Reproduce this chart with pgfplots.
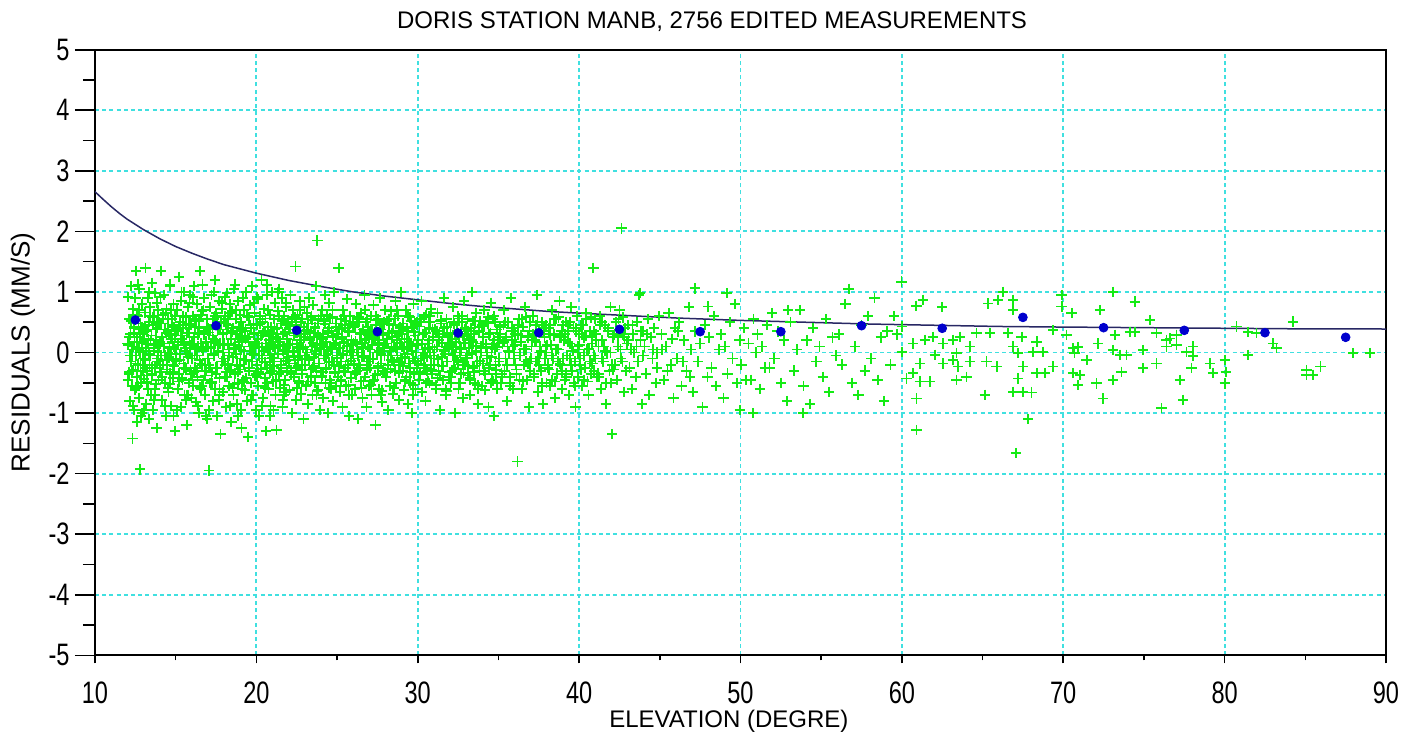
\documentclass[border=0pt]{standalone}
\usepackage{fontspec}
\setmainfont{Liberation Sans}
\newfontfamily\tickfont[FakeStretch=0.76]{Liberation Sans}
\usepackage{pgfplots}
\pgfplotsset{compat=1.18}

\definecolor{gridcyan}{RGB}{64,224,224}
\definecolor{ptgreen}{RGB}{20,235,20}
\definecolor{meanblue}{RGB}{0,0,205}
\definecolor{curvenavy}{RGB}{40,40,100}

\pgfplotsset{resid/.style={only marks, mark=+, mark size=2.6pt, color=ptgreen, mark options={line width=0.9pt}}}

\begin{document}
\begin{tikzpicture}
\useasboundingbox (-47.5pt,-39.35pt) rectangle (654.5pt,327.65pt);
\begin{axis}[
  at={(0pt,0pt)}, anchor=south west,
  scale only axis, width=645.5pt, height=302.8pt,
  xmin=10, xmax=90, ymin=-5, ymax=5,
  xtick={10,20,...,90}, ytick={-5,-4,...,5},
  xticklabels={10,20,30,40,50,60,70,80,90},
  yticklabels={-5,-4,-3,-2,-1,0,1,2,3,4,5},
  minor x tick num=1, minor y tick num=1,
  tick align=outside, xtick pos=left, ytick pos=left,
  major tick length=10pt, minor tick length=6pt,
  x tick style={/pgfplots/major tick length=4pt, /pgfplots/minor tick length=2.5pt},
  tick style={black, line width=0.8pt},
  axis line style={black, line width=1pt},
  grid=major,
  major grid style={gridcyan, line width=0.9pt, dash pattern=on 2pt off 1.6pt},
  ticklabel style={font=\tickfont\fontsize{15.5}{18}\selectfont, inner sep=0pt},
  xticklabel style={anchor=base, yshift=-13.85pt},
  yticklabel style={anchor=east, xshift=-2.5pt},
  every axis title shift=0pt,
  title={DORIS STATION MANB, 2756 EDITED MEASUREMENTS},
  title style={at={(axis description cs:0.478,1.0358)}, anchor=base, yshift=0pt, inner sep=0pt, font=\fontsize{12}{14}\selectfont},
  xlabel={ELEVATION (DEGRE)},
  xlabel style={at={(axis description cs:0.491,-0.12)}, anchor=base, inner sep=0pt, font=\fontsize{12}{14}\selectfont},
  ylabel={RESIDUALS (MM/S)},
  ylabel style={at={(axis description cs:-0.0558,0.5)}, anchor=center, inner sep=0pt, font=\fontsize{13}{15}\selectfont},
]
% individual residuals
\addplot[resid] coordinates {
(12.05,0.12)(12.1,-0.35)(12.12,0.55)(12.15,-0.8)(12.2,0.3)(12.22,-0.15)(12.25,1.1)(12.28,-0.55)(12.3,0.05)(12.33,-1.42)(12.35,0.72)(12.38,-0.28)(12.4,0.42)(12.42,-0.95)(12.45,0.18)(12.48,-0.62)(12.5,0.9)(12.52,-0.05)(12.55,1.35)(12.58,-0.4)(12.6,0.25)(12.62,-1.15)(12.65,0.6)(12.68,-0.2)(12.7,0.38)(12.72,-0.75)(12.75,1.05)(12.78,0.0)(12.8,-1.93)(12.82,0.48)(12.85,-0.5)(12.88,0.15)(12.9,-1.0)(12.92,0.8)(12.95,-0.3)(12.98,0.35)
(13.02,0.21)(13.05,-0.44)(13.08,0.66)(13.1,-0.12)(13.13,1.4)(13.15,0.02)(13.18,-0.85)(13.2,0.35)(13.23,-0.3)(13.26,0.9)(13.28,-0.6)(13.3,0.14)(13.33,-1.1)(13.36,0.5)(13.38,-0.2)(13.41,0.75)(13.44,-0.05)(13.47,-0.7)(13.5,0.28)(13.52,1.15)(13.55,-0.38)(13.58,0.45)(13.61,-0.95)(13.64,0.08)(13.67,0.6)(13.7,-0.25)(13.73,0.98)(13.76,-0.52)(13.79,0.2)(13.82,-1.25)(13.85,0.4)(13.88,-0.1)(13.91,0.7)(13.94,-0.45)(13.97,0.1)
(14.02,-0.32)(14.05,0.48)(14.08,1.35)(14.1,-0.05)(14.14,0.25)(14.17,-0.78)(14.2,0.62)(14.23,-0.2)(14.26,0.95)(14.3,0.1)(14.33,-0.5)(14.36,0.38)(14.4,-1.05)(14.43,0.72)(14.46,-0.12)(14.5,0.0)(14.53,0.55)(14.56,-0.65)(14.6,0.3)(14.63,-0.35)(14.66,1.1)(14.7,-0.02)(14.73,-0.88)(14.76,0.45)(14.8,0.18)(14.83,-0.42)(14.86,0.8)(14.9,-0.22)(14.93,0.05)(14.96,-1.3)(14.98,0.6)
(15.02,0.35)(15.05,-0.15)(15.09,0.7)(15.12,-0.6)(15.15,0.12)(15.19,1.25)(15.22,-0.35)(15.25,0.5)(15.28,-0.02)(15.32,-0.9)(15.35,0.85)(15.38,0.22)(15.42,-0.45)(15.45,0.4)(15.48,-0.18)(15.52,1.0)(15.55,-0.7)(15.58,0.08)(15.62,0.58)(15.65,-0.28)(15.68,-1.2)(15.72,0.32)(15.75,-0.08)(15.78,0.75)(15.82,-0.5)(15.85,0.15)(15.88,0.95)(15.92,-0.3)(15.95,0.45)(15.98,-0.75)
(16.02,-0.1)(16.05,0.6)(16.08,-0.55)(16.12,0.25)(16.15,1.1)(16.18,-0.25)(16.22,0.42)(16.25,-0.82)(16.28,0.05)(16.32,0.8)(16.35,-0.4)(16.38,0.3)(16.42,-1.0)(16.45,0.52)(16.48,-0.12)(16.52,1.35)(16.55,0.15)(16.58,-0.6)(16.62,0.68)(16.65,-0.2)(16.68,0.02)(16.72,-0.45)(16.75,0.9)(16.78,0.35)(16.82,-0.7)(16.85,0.18)(16.88,-0.3)(16.92,0.55)(16.95,-1.1)(16.98,0.1)
(17.02,0.4)(17.05,-1.95)(17.08,-0.2)(17.12,0.75)(17.15,-0.5)(17.18,0.1)(17.22,0.95)(17.25,-0.32)(17.28,0.28)(17.32,-0.8)(17.35,0.55)(17.38,-0.05)(17.42,1.2)(17.45,-0.6)(17.48,0.2)(17.52,0.65)(17.55,-0.25)(17.58,-1.05)(17.62,0.38)(17.65,0.0)(17.68,0.85)(17.72,-0.42)(17.75,0.15)(17.78,-1.35)(17.82,0.5)(17.85,-0.15)(17.88,0.72)(17.92,-0.65)(17.95,0.3)(17.98,-0.1)
(18.02,0.15)(18.05,-0.4)(18.08,0.6)(18.12,-0.9)(18.15,0.32)(18.18,0.98)(18.22,-0.18)(18.25,0.45)(18.28,-0.55)(18.32,0.05)(18.35,0.8)(18.38,-0.3)(18.42,0.22)(18.45,-1.15)(18.48,0.68)(18.52,-0.08)(18.55,0.4)(18.58,-0.7)(18.62,1.05)(18.65,0.12)(18.68,-0.35)(18.72,0.55)(18.75,-0.02)(18.78,-0.85)(18.82,0.3)(18.85,0.85)(18.88,-0.5)(18.92,0.18)(18.95,-0.22)(18.98,0.62)
(19.02,-0.28)(19.05,0.5)(19.08,-1.25)(19.12,0.2)(19.15,0.9)(19.18,-0.45)(19.22,0.02)(19.25,0.7)(19.28,-0.62)(19.32,0.35)(19.35,-0.12)(19.38,1.0)(19.42,-0.8)(19.45,0.25)(19.48,-1.4)(19.52,0.58)(19.55,-0.3)(19.58,0.1)(19.62,0.78)(19.65,-0.5)(19.68,0.4)(19.72,-0.15)(19.75,1.1)(19.78,-0.7)(19.82,0.3)(19.85,-0.02)(19.88,0.65)(19.92,-0.38)(19.95,0.15)(19.98,-0.95)
(20.02,0.45)(20.05,-0.2)(20.08,0.88)(20.12,-0.55)(20.15,0.1)(20.18,-1.05)(20.22,0.6)(20.25,-0.35)(20.28,0.28)(20.32,1.2)(20.35,-0.1)(20.38,0.5)(20.42,-0.75)(20.45,0.02)(20.48,0.72)(20.52,-0.42)(20.55,0.35)(20.58,-1.3)(20.62,0.15)(20.65,0.95)(20.68,-0.25)(20.72,0.42)(20.75,-0.6)(20.78,0.2)(20.82,-0.05)(20.85,0.62)(20.88,-0.88)(20.92,0.3)(20.95,1.0)(20.98,-0.3)
(21.02,0.1)(21.05,-0.48)(21.08,0.55)(21.12,-0.15)(21.15,0.82)(21.18,-0.7)(21.22,0.25)(21.25,-1.28)(21.28,0.4)(21.32,-0.02)(21.35,0.68)(21.38,-0.35)(21.42,1.05)(21.45,0.12)(21.48,-0.58)(21.52,0.48)(21.55,-0.2)(21.58,0.9)(21.62,-0.9)(21.65,0.3)(21.68,-0.1)(21.72,0.6)(21.75,-0.45)(21.78,0.05)(21.82,0.75)(21.85,-0.65)(21.88,0.22)(21.92,-0.3)(21.95,0.5)(21.98,-0.08)
(22.02,0.38)(22.05,-0.62)(22.08,0.15)(22.12,0.95)(22.15,-0.3)(22.18,0.5)(22.22,-1.0)(22.25,0.02)(22.28,0.7)(22.32,-0.4)(22.35,0.28)(22.38,-0.12)(22.42,1.42)(22.45,0.45)(22.48,-0.78)(22.52,0.1)(22.55,0.62)(22.58,-0.22)(22.62,0.35)(22.65,-0.5)(22.68,0.85)(22.72,-0.05)(22.75,0.2)(22.78,-0.68)(22.82,0.55)(22.85,-0.35)(22.88,0.08)(22.92,-1.1)(22.95,0.42)(22.98,0.75)
(23.02,-0.2)(23.05,0.3)(23.08,-0.55)(23.12,0.65)(23.15,0.0)(23.18,-0.85)(23.22,0.48)(23.25,-0.12)(23.28,0.9)(23.32,0.2)(23.35,-0.4)(23.38,0.58)(23.42,-0.28)(23.45,0.1)(23.48,-0.7)(23.52,0.78)(23.55,0.32)(23.58,-0.08)(23.62,-0.5)(23.65,0.42)(23.68,1.1)(23.72,-0.3)(23.75,0.15)(23.78,1.85)(23.82,-0.62)(23.85,0.55)(23.88,-0.18)(23.92,0.25)(23.95,-0.95)(23.98,0.6)
(24.02,0.05)(24.05,0.7)(24.08,-0.38)(24.12,0.3)(24.15,-0.75)(24.18,0.52)(24.22,-0.1)(24.25,0.95)(24.28,-0.5)(24.32,0.18)(24.35,-0.25)(24.38,0.62)(24.42,-0.02)(24.45,-1.0)(24.48,0.4)(24.52,0.82)(24.55,-0.45)(24.58,0.1)(24.62,-0.6)(24.65,0.35)(24.68,-0.15)(24.72,0.58)(24.75,-0.8)(24.78,0.25)(24.82,1.0)(24.85,-0.32)(24.88,0.12)(24.92,-0.55)(24.95,0.48)(24.98,-0.05)
(25.02,0.3)(25.06,-0.4)(25.1,1.4)(25.14,0.08)(25.18,-0.65)(25.22,0.55)(25.26,-0.15)(25.3,0.25)(25.34,-0.9)(25.38,0.7)(25.42,-0.3)(25.46,0.15)(25.5,0.45)(25.54,-0.55)(25.58,-0.05)(25.62,0.88)(25.66,-0.2)(25.7,0.35)(25.74,-1.05)(25.78,0.6)(25.82,0.02)(25.86,-0.42)(25.9,0.2)(25.94,-0.7)(25.97,0.5)
(26.02,-0.1)(26.06,0.42)(26.1,-0.6)(26.14,0.18)(26.18,0.8)(26.22,-0.3)(26.26,0.05)(26.3,-1.1)(26.34,0.5)(26.38,-0.2)(26.42,0.3)(26.46,-0.48)(26.5,0.65)(26.54,0.1)(26.58,-0.75)(26.62,0.38)(26.66,-0.05)(26.7,0.95)(26.74,-0.4)(26.78,0.22)(26.82,-0.9)(26.86,0.55)(26.9,-0.15)(26.94,0.28)(26.97,-0.55)
(27.02,0.35)(27.06,-0.25)(27.1,0.6)(27.14,-0.7)(27.18,0.12)(27.22,-0.1)(27.26,0.78)(27.3,-0.45)(27.34,0.25)(27.38,-1.2)(27.42,0.45)(27.46,0.0)(27.5,-0.35)(27.54,0.55)(27.58,-0.6)(27.62,0.2)(27.66,0.9)(27.7,-0.18)(27.74,0.38)(27.78,-0.82)(27.82,0.08)(27.86,-0.3)(27.9,0.5)(27.94,-0.05)(27.97,0.7)
(28.02,-0.4)(28.06,0.15)(28.1,0.52)(28.14,-0.2)(28.18,-0.95)(28.22,0.32)(28.26,0.02)(28.3,-0.55)(28.34,0.68)(28.38,-0.12)(28.42,0.25)(28.46,-0.68)(28.5,0.45)(28.54,0.1)(28.58,-0.3)(28.62,0.85)(28.66,-0.5)(28.7,0.2)(28.74,-0.05)(28.78,0.6)(28.82,-0.78)(28.86,0.3)(28.9,-0.2)(28.94,0.4)(28.97,1.0)
(29.02,0.1)(29.06,-0.3)(29.1,0.48)(29.14,-0.62)(29.18,0.22)(29.22,-0.08)(29.26,0.7)(29.3,-0.4)(29.34,0.05)(29.38,-0.85)(29.42,0.35)(29.46,-0.18)(29.5,0.58)(29.54,-0.5)(29.58,0.15)(29.62,-1.0)(29.66,0.42)(29.7,-0.1)(29.74,0.8)(29.78,-0.35)(29.82,0.28)(29.86,-0.6)(29.9,0.0)(29.94,0.5)(29.97,-0.25)
(30.03,0.2)(30.08,-0.45)(30.13,0.55)(30.18,-0.1)(30.23,0.85)(30.28,-0.65)(30.33,0.3)(30.38,-0.2)(30.43,0.05)(30.48,-0.8)(30.53,0.62)(30.58,-0.3)(30.63,0.15)(30.68,0.4)(30.73,-0.5)(30.78,0.0)(30.83,0.72)(30.88,-0.35)(30.93,0.25)(30.97,-0.05)
(31.03,-0.2)(31.08,0.38)(31.13,-0.6)(31.18,0.1)(31.23,0.65)(31.28,-0.3)(31.33,0.2)(31.38,-0.95)(31.43,0.48)(31.48,-0.08)(31.53,0.3)(31.58,-0.45)(31.63,0.9)(31.68,0.05)(31.73,-0.7)(31.78,0.55)(31.83,-0.15)(31.88,0.25)(31.93,-0.4)(31.97,0.12)
(32.03,0.32)(32.08,-0.5)(32.13,0.05)(32.18,0.75)(32.23,-0.25)(32.28,0.45)(32.33,-1.0)(32.38,0.18)(32.43,-0.12)(32.48,0.6)(32.53,-0.6)(32.58,0.25)(32.63,0.0)(32.68,-0.35)(32.73,0.5)(32.78,-0.75)(32.83,0.15)(32.88,0.85)(32.93,-0.2)(32.97,0.4)
(33.03,-0.05)(33.08,0.55)(33.13,-0.38)(33.18,0.2)(33.23,-0.7)(33.28,0.4)(33.33,0.0)(33.38,1.0)(33.43,-0.25)(33.48,0.3)(33.53,-0.5)(33.58,0.1)(33.63,0.65)(33.68,-0.15)(33.73,-0.85)(33.78,0.35)(33.83,-0.3)(33.88,0.52)(33.93,0.08)(33.97,-0.55)
(34.03,0.25)(34.08,-0.3)(34.13,0.7)(34.18,-0.62)(34.23,0.1)(34.28,-0.1)(34.33,0.48)(34.38,-0.9)(34.43,0.3)(34.48,-0.2)(34.53,0.82)(34.58,-0.45)(34.63,0.15)(34.68,0.55)(34.73,-1.05)(34.78,0.05)(34.83,-0.35)(34.88,0.38)(34.93,-0.6)(34.97,0.2)
(35.05,-0.15)(35.12,0.42)(35.18,-0.5)(35.25,0.15)(35.32,0.7)(35.38,-0.3)(35.45,0.25)(35.52,-0.8)(35.58,0.5)(35.65,0.0)(35.72,-0.4)(35.78,0.9)(35.85,0.2)(35.9,-0.6)(35.95,0.35)(35.98,-0.1)
(36.05,0.3)(36.12,-0.35)(36.18,-1.8)(36.25,0.55)(36.32,-0.05)(36.38,0.18)(36.45,-0.6)(36.52,0.42)(36.58,-0.2)(36.65,0.75)(36.72,0.05)(36.78,-0.45)(36.85,0.28)(36.9,-0.9)(36.95,0.5)(36.98,-0.15)
(37.05,0.1)(37.12,0.6)(37.18,-0.4)(37.25,0.2)(37.32,-0.15)(37.38,0.95)(37.45,-0.65)(37.52,0.35)(37.58,0.0)(37.65,-0.3)(37.72,0.5)(37.78,-0.85)(37.85,0.25)(37.9,-0.1)(37.95,0.45)(37.98,-0.5)
(38.05,-0.25)(38.12,0.4)(38.18,-0.55)(38.25,0.12)(38.32,0.7)(38.38,-0.1)(38.45,0.3)(38.52,-0.75)(38.58,0.55)(38.65,-0.35)(38.72,0.05)(38.78,0.85)(38.85,-0.2)(38.9,0.25)(38.95,-0.6)(38.98,0.45)
(39.05,0.2)(39.12,-0.45)(39.18,0.5)(39.25,-0.05)(39.32,0.35)(39.38,-0.7)(39.45,0.15)(39.52,0.75)(39.58,-0.3)(39.65,0.4)(39.72,-0.15)(39.78,-0.9)(39.85,0.6)(39.9,0.05)(39.95,-0.4)(39.98,0.3)
(40.05,-0.1)(40.12,0.45)(40.2,-0.55)(40.28,0.25)(40.35,-0.25)(40.42,0.65)(40.5,0.05)(40.58,-0.7)(40.65,0.35)(40.72,-0.35)(40.8,0.15)(40.88,1.4)(40.94,-0.05)(40.98,0.55)
(41.05,0.3)(41.12,-0.4)(41.2,0.1)(41.28,0.6)(41.35,-0.6)(41.42,0.2)(41.5,-0.15)(41.58,0.45)(41.65,-0.85)(41.72,0.0)(41.8,0.35)(41.88,-0.3)(41.94,0.75)(41.98,-0.5)
(42.05,-1.35)(42.12,0.25)(42.2,-0.2)(42.28,0.5)(42.35,-0.45)(42.42,0.1)(42.5,0.7)(42.58,-0.1)(42.62,2.05)(42.7,0.3)(42.78,-0.65)(42.85,0.4)(42.92,-0.3)(42.98,0.15)
(43.05,0.45)(43.12,-0.25)(43.2,0.05)(43.28,-0.6)(43.35,0.3)(43.42,0.0)(43.5,-0.4)(43.58,0.5)(43.65,-0.15)(43.72,0.95)(43.77,0.98)(43.8,0.2)(43.88,-0.85)(43.94,0.35)(43.98,-0.05)
(44.05,0.1)(44.15,-0.35)(44.25,0.55)(44.35,-0.7)(44.45,0.25)(44.55,-0.1)(44.65,0.4)(44.75,-0.5)(44.85,0.0)(44.95,0.6)
(45.1,0.3)(45.25,-0.45)(45.4,0.1)(45.55,0.65)(45.7,-0.2)(45.85,-0.75)(45.95,0.4)
(46.05,-0.1)(46.2,0.5)(46.35,-0.55)(46.5,0.2)(46.65,-0.3)(46.8,0.75)(46.95,0.05)
(47.05,-0.65)(47.17,1.06)(47.2,0.35)(47.35,-0.15)(47.5,0.15)(47.65,-0.9)(47.8,0.45)(47.95,-0.4)
(48.0,0.76)(48.05,0.25)(48.2,-0.25)(48.35,0.6)(48.5,-0.55)(48.65,0.05)(48.8,0.3)(48.95,-0.75)
(49.05,0.1)(49.14,0.98)(49.2,-0.35)(49.35,0.5)(49.5,-0.1)(49.65,0.8)(49.8,-0.5)(49.96,-0.95)(49.95,0.2)
(50.05,-0.2)(50.2,0.4)(50.35,-0.45)(50.5,0.15)(50.65,-0.45)(50.79,-1.0)(50.8,0.55)(50.95,0.0)
(51.05,0.3)(51.2,-0.6)(51.35,0.1)(51.5,-0.25)(51.65,0.45)(51.8,-0.25)(51.95,0.65)
(52.1,-0.1)(52.3,0.35)(52.5,-0.5)(52.7,0.2)(52.9,-0.8)(52.96,0.7)
(53.1,0.5)(53.3,-0.3)(53.5,0.05)(53.7,0.7)(53.88,-1.0)(53.9,-0.55)
(54.1,0.2)(54.3,-0.85)(54.5,0.4)(54.7,-0.15)(54.9,0.1)
(55.1,-0.4)(55.3,0.55)(55.5,-0.65)(55.7,0.25)(55.9,-0.05)
(56.1,0.3)(56.3,-0.2)(56.5,0.8)(56.7,1.05)(56.9,-0.5)
(57.1,0.1)(57.3,-0.7)(57.5,0.45)(57.7,-0.3)(57.9,0.6)
(58.1,-0.1)(58.3,0.9)(58.5,-0.45)(58.7,0.25)(58.9,-0.8)
(59.1,0.35)(59.3,-0.2)(59.5,0.6)(59.7,0.3)(59.98,1.17)
(60.0,0.43)(60.0,0.01)(60.29,-0.43)(60.7,0.15)(60.7,-0.34)(60.9,0.77)(60.91,-0.76)(60.91,-1.28)(61.11,-0.18)(61.11,-0.48)(61.3,0.87)(61.42,0.21)(61.73,-0.48)(61.94,0.26)(62.04,-0.04)(62.5,0.75)(62.56,0.15)(62.56,-0.18)(63.18,0.21)(63.18,-0.12)(63.39,-0.01)(63.39,-0.45)(63.49,-0.23)(63.59,0.26)(64.0,-0.40)(64.21,0.10)(64.21,-0.15)(64.63,0.32)
(65.14,-0.70)(65.25,-0.15)(65.35,0.81)(65.45,0.32)(65.87,-0.23)(65.97,0.87)(66.28,1.0)(66.59,0.32)(66.9,0.87)(66.9,0.70)(66.9,0.10)(66.9,-0.65)(67.07,-1.66)(67.21,-0.01)(67.21,-0.43)(67.42,0.26)(67.52,-0.23)(67.52,-0.65)(67.83,-1.10)(68.03,-0.66)(68.14,0.01)(68.35,0.18)(68.35,-0.34)(68.76,0.01)(68.86,-0.34)(69.38,-0.23)(69.38,0.37)(69.9,0.95)(69.9,0.76)
(70.2,0.29)(70.52,0.65)(70.61,0.07)(70.61,-0.34)(70.7,-0.01)(70.9,0.09)(70.93,-0.54)(71.03,-0.37)(71.45,-0.12)(72.06,-0.51)(72.16,0.15)(72.27,0.70)(72.47,-0.76)(73.09,1.0)(73.09,0.04)(73.09,-0.45)(73.2,0.29)(73.51,-0.04)(73.61,-0.32)(73.92,-0.04)(74.13,0.34)(74.44,0.84)(74.44,0.34)(74.95,0.04)(74.95,-0.26)
(75.36,0.54)(75.78,0.32)(75.78,-0.18)(76.09,-0.92)(76.4,0.10)(76.4,0.21)(76.6,0.23)(77.02,0.29)(77.02,0.12)(77.23,-0.45)(77.43,-0.78)(77.64,0.01)(77.95,-0.26)(78.05,0.10)(78.05,-0.06)(79.08,-0.18)(79.29,-0.34)
(80.01,-0.12)(80.07,-0.32)(80.01,-0.51)(80.74,0.43)(81.46,0.34)(81.46,-0.04)(81.98,0.32)(83.0,0.15)(83.21,0.07)(84.24,0.51)(85.07,-0.29)(85.07,-0.37)(85.48,-0.37)(85.94,-0.23)(87.97,-0.01)(89.0,-0.01)
};
% residuals in the dense core of the low-elevation passes
\addplot[resid] coordinates {
(12.04,-0.45)(12.11,0.25)(12.17,-0.05)(12.24,0.52)(12.31,-0.3)(12.37,0.1)(12.44,0.4)(12.51,-0.18)(12.57,0.62)(12.64,-0.55)(12.71,0.05)(12.77,0.3)(12.84,-0.38)(12.91,0.18)(12.97,-0.1)
(13.04,0.33)(13.11,-0.25)(13.17,0.08)(13.24,-0.5)(13.31,0.45)(13.37,-0.02)(13.44,0.2)(13.51,-0.35)(13.57,0.58)(13.64,0.12)(13.71,-0.6)(13.77,0.38)(13.84,-0.15)(13.91,0.0)(13.97,0.5)
(14.04,-0.2)(14.11,0.48)(14.17,-0.4)(14.24,0.15)(14.31,0.0)(14.37,0.65)(14.44,-0.28)(14.51,0.35)(14.57,-0.08)(14.64,-0.52)(14.71,0.22)(14.77,0.55)(14.84,-0.32)(14.91,0.1)(14.97,0.28)
(15.04,0.05)(15.11,-0.6)(15.17,0.4)(15.24,-0.12)(15.31,0.28)(15.37,-0.42)(15.44,0.6)(15.51,0.18)(15.57,-0.25)(15.64,0.45)(15.71,-0.02)(15.77,-0.7)(15.84,0.32)(15.91,0.08)(15.97,-0.35)
(16.04,-0.45)(16.11,0.25)(16.17,-0.05)(16.24,0.52)(16.31,-0.3)(16.37,0.1)(16.44,0.4)(16.51,-0.18)(16.57,0.62)(16.64,-0.55)(16.71,0.05)(16.77,0.3)(16.84,-0.38)(16.91,0.18)(16.97,-0.1)
(17.04,0.33)(17.11,-0.25)(17.17,0.08)(17.24,-0.5)(17.31,0.45)(17.37,-0.02)(17.44,0.2)(17.51,-0.35)(17.57,0.58)(17.64,0.12)(17.71,-0.6)(17.77,0.38)(17.84,-0.15)(17.91,0.0)(17.97,0.5)
(18.04,-0.2)(18.11,0.48)(18.17,-0.4)(18.24,0.15)(18.31,0.0)(18.37,0.65)(18.44,-0.28)(18.51,0.35)(18.57,-0.08)(18.64,-0.52)(18.71,0.22)(18.77,0.55)(18.84,-0.32)(18.91,0.1)(18.97,0.28)
(19.04,0.05)(19.11,-0.6)(19.17,0.4)(19.24,-0.12)(19.31,0.28)(19.37,-0.42)(19.44,0.6)(19.51,0.18)(19.57,-0.25)(19.64,0.45)(19.71,-0.02)(19.77,-0.7)(19.84,0.32)(19.91,0.08)(19.97,-0.35)
(20.04,-0.4)(20.11,0.22)(20.17,-0.05)(20.24,0.47)(20.31,-0.27)(20.37,0.09)(20.44,0.36)(20.51,-0.16)(20.57,0.56)(20.64,-0.5)(20.71,0.05)(20.77,0.27)(20.84,-0.34)(20.91,0.16)(20.97,-0.09)
(21.04,0.3)(21.11,-0.22)(21.17,0.07)(21.24,-0.45)(21.31,0.4)(21.37,-0.02)(21.44,0.18)(21.51,-0.32)(21.57,0.52)(21.64,0.11)(21.71,-0.54)(21.77,0.34)(21.84,-0.14)(21.91,0.0)(21.97,0.45)
(22.04,-0.18)(22.11,0.43)(22.17,-0.36)(22.24,0.14)(22.31,0.0)(22.37,0.58)(22.44,-0.25)(22.51,0.32)(22.57,-0.07)(22.64,-0.47)(22.71,0.2)(22.77,0.5)(22.84,-0.29)(22.91,0.09)(22.97,0.25)
(23.04,0.05)(23.11,-0.54)(23.17,0.36)(23.24,-0.11)(23.31,0.25)(23.37,-0.38)(23.44,0.54)(23.51,0.16)(23.57,-0.22)(23.64,0.4)(23.71,-0.02)(23.77,-0.63)(23.84,0.29)(23.91,0.07)(23.97,-0.32)
(24.04,-0.4)(24.11,0.22)(24.17,-0.05)(24.24,0.47)(24.31,-0.27)(24.37,0.09)(24.44,0.36)(24.51,-0.16)(24.57,0.56)(24.64,-0.5)(24.71,0.05)(24.77,0.27)(24.84,-0.34)(24.91,0.16)(24.97,-0.09)
(25.04,0.3)(25.11,-0.22)(25.17,0.07)(25.24,-0.45)(25.31,0.4)(25.37,-0.02)(25.44,0.18)(25.51,-0.32)(25.57,0.52)(25.64,0.11)(25.71,-0.54)(25.77,0.34)(25.84,-0.14)(25.91,0.0)(25.97,0.45)
(26.04,-0.18)(26.11,0.43)(26.17,-0.36)(26.24,0.14)(26.31,0.0)(26.37,0.58)(26.44,-0.25)(26.51,0.32)(26.57,-0.07)(26.64,-0.47)(26.71,0.2)(26.77,0.5)(26.84,-0.29)(26.91,0.09)(26.97,0.25)
(27.04,0.05)(27.11,-0.54)(27.17,0.36)(27.24,-0.11)(27.31,0.25)(27.37,-0.38)(27.44,0.54)(27.51,0.16)(27.57,-0.22)(27.64,0.4)(27.71,-0.02)(27.77,-0.63)(27.84,0.29)(27.91,0.07)(27.97,-0.32)
(28.04,-0.4)(28.11,0.22)(28.17,-0.05)(28.24,0.47)(28.31,-0.27)(28.37,0.09)(28.44,0.36)(28.51,-0.16)(28.57,0.56)(28.64,-0.5)(28.71,0.05)(28.77,0.27)(28.84,-0.34)(28.91,0.16)(28.97,-0.09)
(29.04,0.3)(29.11,-0.22)(29.17,0.07)(29.24,-0.45)(29.31,0.4)(29.37,-0.02)(29.44,0.18)(29.51,-0.32)(29.57,0.52)(29.64,0.11)(29.71,-0.54)(29.77,0.34)(29.84,-0.14)(29.91,0.0)(29.97,0.45)
(30.04,-0.18)(30.11,0.43)(30.17,-0.36)(30.24,0.14)(30.31,0.0)(30.37,0.58)(30.44,-0.25)(30.51,0.32)(30.57,-0.07)(30.64,-0.47)(30.71,0.2)(30.77,0.5)(30.84,-0.29)(30.91,0.09)(30.97,0.25)
(31.04,0.05)(31.11,-0.54)(31.17,0.36)(31.24,-0.11)(31.31,0.25)(31.37,-0.38)(31.44,0.54)(31.51,0.16)(31.57,-0.22)(31.64,0.4)(31.71,-0.02)(31.77,-0.63)(31.84,0.29)(31.91,0.07)(31.97,-0.32)
(32.04,-0.4)(32.11,0.22)(32.17,-0.05)(32.24,0.47)(32.31,-0.27)(32.37,0.09)(32.44,0.36)(32.51,-0.16)(32.57,0.56)(32.64,-0.5)(32.71,0.05)(32.77,0.27)(32.84,-0.34)(32.91,0.16)(32.97,-0.09)
(33.04,0.3)(33.11,-0.22)(33.17,0.07)(33.24,-0.45)(33.31,0.4)(33.37,-0.02)(33.44,0.18)(33.51,-0.32)(33.57,0.52)(33.64,0.11)(33.71,-0.54)(33.77,0.34)(33.84,-0.14)(33.91,0.0)(33.97,0.45)
(34.04,-0.18)(34.11,0.43)(34.17,-0.36)(34.24,0.14)(34.31,0.0)(34.37,0.58)(34.44,-0.25)(34.51,0.32)(34.57,-0.07)(34.64,-0.47)(34.71,0.2)(34.77,0.5)(34.84,-0.29)(34.91,0.09)(34.97,0.25)
(35.06,0.2)(35.19,-0.35)(35.31,0.45)(35.44,-0.1)(35.56,0.1)(35.69,-0.5)(35.81,0.35)(35.94,0.0)
(36.06,-0.2)(36.19,0.3)(36.31,-0.45)(36.44,0.55)(36.56,0.05)(36.69,-0.15)(36.81,0.25)(36.94,-0.3)
(37.06,0.2)(37.19,-0.35)(37.31,0.45)(37.44,-0.1)(37.56,0.1)(37.69,-0.5)(37.81,0.35)(37.94,0.0)
(38.06,-0.2)(38.19,0.3)(38.31,-0.45)(38.44,0.55)(38.56,0.05)(38.69,-0.15)(38.81,0.25)(38.94,-0.3)
(39.06,0.2)(39.19,-0.35)(39.31,0.45)(39.44,-0.1)(39.56,0.1)(39.69,-0.5)(39.81,0.35)(39.94,0.0)
(40.06,-0.2)(40.19,0.3)(40.31,-0.45)(40.44,0.55)(40.56,0.05)(40.69,-0.15)(40.81,0.25)(40.94,-0.3)
(41.06,0.2)(41.19,-0.35)(41.31,0.45)(41.44,-0.1)(41.56,0.1)(41.69,-0.5)(41.81,0.35)(41.94,0.0)
(42.06,-0.2)(42.19,0.3)(42.31,-0.45)(42.44,0.55)(42.56,0.05)(42.69,-0.15)(42.81,0.25)(42.94,-0.3)
(43.06,0.2)(43.31,0.45)(43.56,0.1)(43.81,0.35)
(44.19,0.3)(44.56,0.05)(44.81,-0.25)
(45.15,0.05)(45.48,-0.3)(45.78,0.22)(46.12,0.35)(46.42,-0.15)(46.88,-0.4)
};
% further residuals filling the central band
\addplot[resid] coordinates {
(12.02,0.15)(12.12,-0.32)(12.22,0.55)(12.32,-0.05)(12.42,0.32)(12.52,-0.58)(12.62,0.08)(12.72,0.7)(12.82,-0.2)(12.92,0.42)
(13.02,-0.1)(13.12,0.38)(13.22,-0.48)(13.32,0.22)(13.42,0.6)(13.52,-0.25)(13.62,0.02)(13.72,-0.7)(13.82,0.48)(13.92,0.12)
(14.02,0.15)(14.12,-0.32)(14.22,0.55)(14.32,-0.05)(14.42,0.32)(14.52,-0.58)(14.62,0.08)(14.72,0.7)(14.82,-0.2)(14.92,0.42)
(15.02,-0.1)(15.12,0.38)(15.22,-0.48)(15.32,0.22)(15.42,0.6)(15.52,-0.25)(15.62,0.02)(15.72,-0.7)(15.82,0.48)(15.92,0.12)
(16.02,0.15)(16.12,-0.32)(16.22,0.55)(16.32,-0.05)(16.42,0.32)(16.52,-0.58)(16.62,0.08)(16.72,0.7)(16.82,-0.2)(16.92,0.42)
(17.02,-0.1)(17.12,0.38)(17.22,-0.48)(17.32,0.22)(17.42,0.6)(17.52,-0.25)(17.62,0.02)(17.72,-0.7)(17.82,0.48)(17.92,0.12)
(18.02,0.15)(18.12,-0.32)(18.22,0.55)(18.32,-0.05)(18.42,0.32)(18.52,-0.58)(18.62,0.08)(18.72,0.7)(18.82,-0.2)(18.92,0.42)
(19.02,-0.1)(19.12,0.38)(19.22,-0.48)(19.32,0.22)(19.42,0.6)(19.52,-0.25)(19.62,0.02)(19.72,-0.7)(19.82,0.48)(19.92,0.12)
(20.02,0.15)(20.12,-0.32)(20.22,0.55)(20.32,-0.05)(20.42,0.32)(20.52,-0.58)(20.62,0.08)(20.72,0.7)(20.82,-0.2)(20.92,0.42)
(21.02,-0.1)(21.12,0.38)(21.22,-0.48)(21.32,0.22)(21.42,0.6)(21.52,-0.25)(21.62,0.02)(21.72,-0.7)(21.82,0.48)(21.92,0.12)
(22.02,0.15)(22.12,-0.32)(22.22,0.55)(22.32,-0.05)(22.42,0.32)(22.52,-0.58)(22.62,0.08)(22.72,0.7)(22.82,-0.2)(22.92,0.42)
(23.02,-0.1)(23.12,0.38)(23.22,-0.48)(23.32,0.22)(23.42,0.6)(23.52,-0.25)(23.62,0.02)(23.72,-0.7)(23.82,0.48)(23.92,0.12)
(24.02,0.15)(24.12,-0.32)(24.22,0.55)(24.32,-0.05)(24.42,0.32)(24.52,-0.58)(24.62,0.08)(24.72,0.7)(24.82,-0.2)(24.92,0.42)
(25.02,-0.1)(25.12,0.38)(25.22,-0.48)(25.32,0.22)(25.42,0.6)(25.52,-0.25)(25.62,0.02)(25.72,-0.7)(25.82,0.48)(25.92,0.12)
(26.02,0.15)(26.12,-0.32)(26.22,0.55)(26.32,-0.05)(26.42,0.32)(26.52,-0.58)(26.62,0.08)(26.72,0.7)(26.82,-0.2)(26.92,0.42)
(27.02,-0.1)(27.12,0.38)(27.22,-0.48)(27.32,0.22)(27.42,0.6)(27.52,-0.25)(27.62,0.02)(27.72,-0.7)(27.82,0.48)(27.92,0.12)
(28.02,0.15)(28.12,-0.32)(28.22,0.55)(28.32,-0.05)(28.42,0.32)(28.52,-0.58)(28.62,0.08)(28.72,0.7)(28.82,-0.2)(28.92,0.42)
(29.02,-0.1)(29.12,0.38)(29.22,-0.48)(29.32,0.22)(29.42,0.6)(29.52,-0.25)(29.62,0.02)(29.72,-0.7)(29.82,0.48)(29.92,0.12)
(30.02,0.15)(30.12,-0.32)(30.22,0.5)(30.32,-0.05)(30.42,0.32)(30.52,-0.5)(30.62,0.08)(30.72,0.6)(30.82,-0.2)(30.92,0.38)
(31.02,-0.1)(31.12,0.35)(31.22,-0.42)(31.32,0.2)(31.42,0.52)(31.52,-0.22)(31.62,0.02)(31.72,-0.6)(31.82,0.42)(31.92,0.1)
(32.02,0.15)(32.12,-0.3)(32.22,0.5)(32.32,-0.05)(32.42,0.3)(32.52,-0.5)(32.62,0.08)(32.72,0.6)(32.82,-0.2)(32.92,0.38)
(33.02,-0.1)(33.12,0.35)(33.22,-0.42)(33.32,0.2)(33.42,0.52)(33.52,-0.22)(33.62,0.02)(33.72,-0.6)(33.82,0.42)(33.92,0.1)
(34.02,0.15)(34.12,-0.3)(34.22,0.5)(34.32,-0.05)(34.42,0.3)(34.52,-0.5)(34.62,0.08)(34.72,0.6)(34.82,-0.2)(34.92,0.38)
(35.02,-0.1)(35.12,0.3)(35.22,-0.4)(35.32,0.18)(35.42,0.5)(35.52,-0.2)(35.62,0.02)(35.72,-0.55)(35.82,0.4)(35.92,0.1)
(36.02,0.12)(36.12,-0.28)(36.22,0.45)(36.32,-0.05)(36.42,0.28)(36.52,-0.48)(36.62,0.06)(36.72,0.58)(36.82,-0.18)(36.92,0.35)
(37.02,-0.1)(37.12,0.3)(37.22,-0.4)(37.32,0.18)(37.42,0.5)(37.52,-0.2)(37.62,0.02)(37.72,-0.55)(37.82,0.4)(37.92,0.1)
(38.02,0.12)(38.12,-0.28)(38.22,0.45)(38.32,-0.05)(38.42,0.28)(38.52,-0.48)(38.62,0.06)(38.72,0.58)(38.82,-0.18)(38.92,0.35)
(39.02,-0.1)(39.12,0.3)(39.22,-0.4)(39.32,0.18)(39.42,0.5)(39.52,-0.2)(39.62,0.02)(39.72,-0.55)(39.82,0.4)(39.92,0.1)
(40.02,0.12)(40.12,-0.28)(40.22,0.45)(40.32,-0.05)(40.42,0.28)(40.52,-0.48)(40.62,0.06)(40.72,0.58)(40.82,-0.18)(40.92,0.35)
(41.02,-0.1)(41.22,-0.4)(41.42,0.5)(41.62,0.02)(41.82,0.4)
(42.12,-0.28)(42.42,0.28)(42.72,0.58)
(12.06,0.92)(12.36,-0.88)(12.66,1.12)(12.86,-1.05)(13.06,-0.95)(13.36,1.0)(13.66,-0.78)(13.86,0.82)
(14.06,0.92)(14.36,-0.88)(14.66,1.12)(14.86,-1.05)(15.06,-0.95)(15.36,1.0)(15.66,-0.78)(15.86,0.82)
(16.06,0.92)(16.36,-0.88)(16.66,1.12)(16.86,-1.05)(17.06,-0.95)(17.36,1.0)(17.66,-0.78)(17.86,0.82)
(18.06,0.92)(18.36,-0.88)(18.66,1.12)(18.86,-1.05)(19.06,-0.95)(19.36,1.0)(19.66,-0.78)(19.86,0.82)
(20.06,0.92)(20.36,-0.88)(20.66,1.12)(20.86,-1.05)(21.06,-0.95)(21.36,1.0)(21.66,-0.78)(21.86,0.82)
};
% elevation-dependent envelope
\addplot[curvenavy, line width=0.75pt] coordinates {
(10,2.655)(10.5,2.53)(11,2.41)(11.5,2.30)(12,2.20)(13,2.03)(14,1.88)(15,1.75)(16,1.64)(17,1.54)(18,1.45)(19,1.38)(20,1.31)(22,1.19)(24,1.09)(26,1.00)(28,0.93)(30,0.87)(32,0.81)(34,0.76)(36,0.72)(38,0.68)(40,0.65)(43,0.61)(46,0.57)(50,0.53)(54,0.50)(58,0.47)(62,0.45)(66,0.43)(70,0.42)(75,0.41)(80,0.40)(85,0.39)(90,0.388)
};
% mean residual per 5-degree bin
\addplot[only marks, mark=*, mark size=2.2pt, color=meanblue] coordinates {
(12.5,0.537)(17.5,0.443)(22.5,0.366)(27.5,0.344)(32.5,0.322)(37.5,0.327)(42.5,0.383)(47.5,0.344)(52.5,0.344)(57.5,0.443)(62.5,0.40)(67.5,0.58)(72.5,0.41)(77.5,0.366)(82.5,0.327)(87.5,0.251)
};
\end{axis}
\end{tikzpicture}
\end{document}
